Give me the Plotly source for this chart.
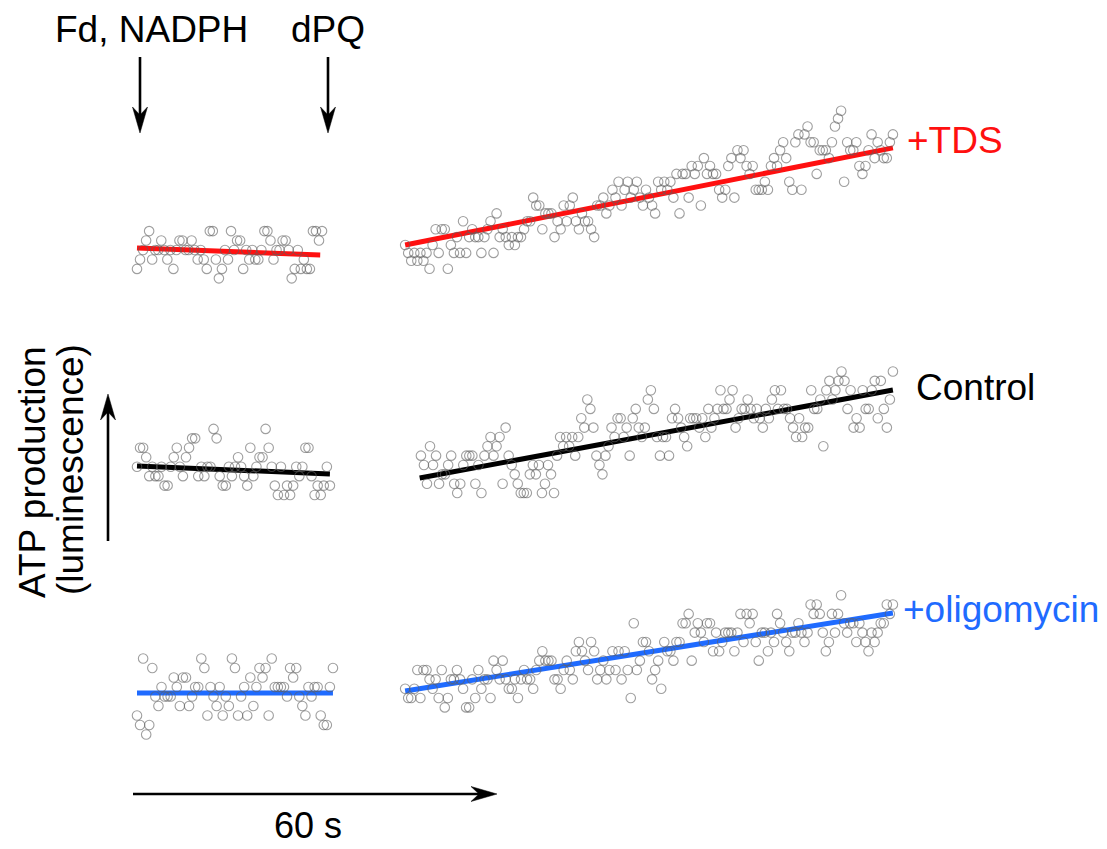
import numpy as np
import plotly.graph_objects as go

# ---------------- data (luminescence counts, quantised levels) ----------------
# sample windows (s) : before / after dPQ addition
tds_t1 = (0.0, 30.5)
tds_t2 = (44.2, 124.6)
ctrl_t1 = (0.0, 31.8)
ctrl_t2 = (46.8, 124.6)
olig_t1 = (0.0, 32.3)
olig_t2 = (44.2, 124.6)

tds_lvl1 = [-2,-1,0,1,2,-1,0,0,1,0,
            -1,0,-2,0,1,1,0,0,1,0,
            -1,0,-1,-2,2,2,-1,-3,-2,0,
            -1,2,0,1,1,-2,0,-1,0,-1,
            -1,0,2,2,1,-1,0,0,1,1,
            0,-3,-2,0,-2,-1,-2,-2,2,2,
            1,2]
tds_lvl2 = [0,-1,-2,-1,-2,-1,-2,-1,-3,0,
            2,-1,2,2,-3,0,-1,1,-1,3,
            -1,1,2,1,1,-1,1,2,3,-1,
            4,1,2,1,0,1,0,1,1,2,
            3,3,6,5,5,2,4,4,4,1,
            3,2,5,3,5,6,3,2,4,3,
            3,2,1,5,5,6,4,5,7,6,
            8,5,7,8,6,7,8,6,5,7,
            6,5,4,8,7,8,7,8,6,9,
            4,9,9,6,10,9,10,5,11,9,
            10,9,9,7,6,7,10,11,6,12,
            11,12,10,9,10,7,7,7,8,7,
            10,11,10,12,13,11,8,7,13,14,
            7,14,15,13,13,9,12,12,12,11,
            13,15,16,17,8,13,12,12,13,10,
            9,10,12,14,11,13,12,11,11,13,
            14]
ctrl_lvl1 = [0,2,2,1,-1,0,-1,-1,0,-2,
             -2,0,1,2,0,-1,1,2,3,3,
             -1,0,-1,0,0,4,3,-1,-2,-2,
             0,-1,0,1,0,-1,-2,2,-1,0,
             1,1,4,2,0,-2,-3,0,-3,-2,
             -3,-2,0,-1,0,2,2,-1,-3,-2,
             -3,-2,0,-2]
ctrl_lvl2 = [1,0,-2,2,0,1,-2,-1,-1,0,
             1,-2,-3,-2,0,1,1,1,-2,0,
             -3,1,2,3,1,2,3,-2,4,1,
             0,-1,-2,-3,-3,-3,-1,0,-1,0,
             -3,-2,0,-1,-3,1,3,2,3,2,
             3,1,3,5,4,7,6,4,1,0,
             -1,1,2,4,3,5,5,3,4,1,
             5,6,4,3,4,7,8,6,3,1,
             3,3,1,5,6,5,4,3,2,5,
             5,5,4,5,3,6,4,5,6,8,
             6,6,7,8,4,5,6,6,7,6,
             5,6,5,4,6,5,7,8,6,8,
             6,6,5,4,3,5,3,4,4,8,
             6,6,7,2,8,9,7,8,9,10,
             9,6,8,4,5,4,8,6,6,8,
             9,5,9,6,4,7,10]
olig_lvl1 = [-3,-4,3,-5,-4,2,-1,-2,0,-1,
             -1,-1,1,0,-2,1,1,-2,-1,0,
             0,3,2,-3,0,-1,-2,0,-3,-1,
             -2,3,2,-3,-1,0,-3,1,-2,0,
             2,1,2,-3,3,0,0,0,0,-1,
             2,1,2,-1,-2,-3,0,-1,0,0,
             -3,-4,-4,0,2]
olig_lvl2 = [0,-1,-1,0,2,-1,2,2,1,0,
             1,-1,2,-2,-1,1,1,2,1,0,
             -2,-2,1,-1,2,0,1,1,-1,3,
             2,1,3,1,0,0,1,-1,1,2,
             1,1,0,2,3,4,3,3,3,1,
             1,0,2,3,2,1,4,5,4,3,
             2,5,4,1,2,3,1,2,4,2,
             4,1,4,2,-1,7,2,3,5,5,
             4,1,2,3,0,5,4,4,3,5,
             5,7,7,8,3,6,7,6,5,7,
             7,4,6,4,5,6,6,6,4,6,
             8,5,8,7,8,5,3,6,6,4,
             6,5,8,7,6,5,4,6,6,7,
             6,5,6,9,8,9,8,6,4,5,
             8,6,8,10,7,6,7,7,5,7,
             6,5,4,6,5,6,7,7,9,8,
             9]

# linear fits (levels at start / end of each window)
tds_fit1 = [0.2, -0.53]
tds_fit2 = [0.0, 12.3]
ctrl_fit1 = [0.07, -0.77]
ctrl_fit2 = [-1.39, 8.02]
olig_fit1 = [-0.63, -0.63]
olig_fit2 = [-0.25, 8.1]

labels = ["+TDS", "Control", "+oligomycin"]

# ---------------- display constants ----------------
W, H = 1107, 849
PX_PER_S = 364 / 60.0
X0_PX = 137
RED = "#ff1010"
BLUE = "#1f6bff"
BLACK = "#000000"
MARK = "rgba(95,95,95,0.6)"
FONT = "Liberation Sans, Arial, sans-serif"

# trace offsets (display baseline in px-up units) and level gain
disp = {
    "tds1": (849 - 250, 9.45), "tds2": (849 - 245, 7.9),
    "ctrl1": (849 - 466.7, 9.45), "ctrl2": (849 - 465, 9.35),
    "olig1": (849 - 687, 9.5), "olig2": (849 - 688.7, 9.35),
}

fig = go.Figure()

segments = [
    ("tds1", tds_t1, tds_lvl1, tds_fit1, RED, (0.0, 30.2)),
    ("tds2", tds_t2, tds_lvl2, tds_fit2, RED, (44.2, 124.6)),
    ("ctrl1", ctrl_t1, ctrl_lvl1, ctrl_fit1, BLACK, (0.0, 31.8)),
    ("ctrl2", ctrl_t2, ctrl_lvl2, ctrl_fit2, BLACK, (46.6, 124.6)),
    ("olig1", olig_t1, olig_lvl1, olig_fit1, BLUE, (0.0, 32.3)),
    ("olig2", olig_t2, olig_lvl2, olig_fit2, BLUE, (44.2, 124.6)),
]

# fit lines first, markers on top
for key, tw, lv, fit, col, fx in segments:
    base, gain = disp[key]
    fig.add_trace(go.Scatter(x=list(fx), y=[base + gain * v for v in fit],
                             mode="lines", line=dict(color=col, width=5),
                             hoverinfo="skip"))
for key, tw, lv, fit, col, fx in segments:
    base, gain = disp[key]
    t = np.linspace(tw[0], tw[1], len(lv))
    fig.add_trace(go.Scatter(x=t, y=base + gain * np.array(lv), mode="markers",
                             marker=dict(symbol="circle-open", size=9.5,
                                         color=MARK, line=dict(width=1.1, color=MARK))))


def paper(px, py):
    return px / W, 1 - py / H


shapes = []


def arrow(x0, y0, x1, y1, head_len=26, head_w=7.5, notch=18, lw=2.6):
    L = np.hypot(x1 - x0, y1 - y0)
    dx, dy = (x1 - x0) / L, (y1 - y0) / L
    nx, ny = -dy, dx
    bx, by = x1 - head_len * dx, y1 - head_len * dy
    lx, ly = bx + head_w * nx, by + head_w * ny
    rx, ry = bx - head_w * nx, by - head_w * ny
    cx, cy = x1 - notch * dx, y1 - notch * dy
    sx, sy = paper(x0, y0)
    ex, ey = paper(cx, cy)
    shapes.append(dict(type="line", xref="paper", yref="paper", x0=sx, y0=sy,
                       x1=ex, y1=ey, line=dict(color="black", width=lw)))
    pts = [paper(x1, y1), paper(lx, ly), paper(cx, cy), paper(rx, ry)]
    path = "M " + " L ".join(f"{a:.5f},{b:.5f}" for a, b in pts) + " Z"
    shapes.append(dict(type="path", xref="paper", yref="paper", path=path,
                       fillcolor="black", line=dict(color="black", width=0.5)))


arrow(140, 57, 140, 133)
arrow(328, 57, 328, 133)
arrow(108, 541, 108, 394)
arrow(133, 794, 497, 794)

ann = []


def text(s, px, py, color="black", size=37, angle=0):
    x, y = paper(px, py)
    ann.append(dict(text=s, x=x, y=y, xref="paper", yref="paper", showarrow=False,
                    xanchor="center", yanchor="middle", textangle=angle,
                    font=dict(family=FONT, size=size, color=color)))


text("Fd, NADPH", 151, 29)
text("dPQ", 328, 29)
text(labels[0], 955, 141, RED)
text(labels[1], 975, 387)
text(labels[2], 1001, 609, BLUE)
text("60 s", 308, 825, size=36)
text("ATP production", 33, 472, angle=-90)
text("(luminescence)", 70, 470, angle=-90)

fig.update_layout(
    width=W, height=H, autosize=False,
    margin=dict(l=0, r=0, t=0, b=0),
    paper_bgcolor="white", plot_bgcolor="white",
    showlegend=False,
    xaxis=dict(visible=False, range=[-X0_PX / PX_PER_S, (W - X0_PX) / PX_PER_S]),
    yaxis=dict(visible=False, range=[0, H]),
    shapes=shapes, annotations=ann,
)

fig.write_html("out.html")
